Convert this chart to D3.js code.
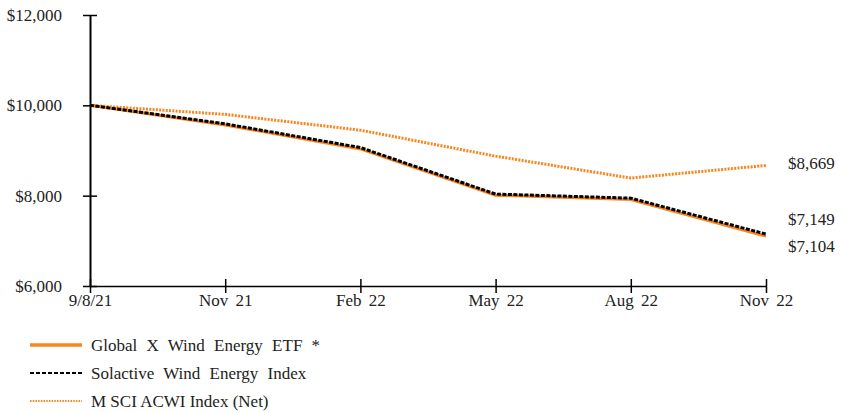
<!DOCTYPE html>
<html>
<head>
<meta charset="utf-8">
<script src="https://cdn.jsdelivr.net/npm/d3@7/dist/d3.min.js"></script>
<style>
  body { margin: 0; background: #fff; }
  svg text { font-family: "Liberation Serif", "Times New Roman", serif; fill: #222; }
</style>
</head>
<body>
<svg id="chart" width="842" height="412"></svg>
<script>
// Growth of a $10,000 investment
const categories = ["9/8/21", "Nov 21", "Feb 22", "May 22", "Aug 22", "Nov 22"];
const etfValues = [10000, 9565, 9035, 8010, 7915, 7104];
const solactiveValues = [10000, 9590, 9065, 8035, 7945, 7149];
const msciValues = [10000, 9800, 9450, 8875, 8390, 8669];
const yTicks = [6000, 8000, 10000, 12000];
const seriesNames = ["Global X Wind Energy ETF *", "Solactive Wind Energy Index", "M SCI ACWI Index (Net)"];

const orange = "#f7861e";
const fontSize = 17;
const svg = d3.select("#chart");

const x = d3.scalePoint().domain(categories).range([90, 766]);
const y = d3.scaleLinear().domain([6000, 12000]).range([286, 15]);

const fmt = v => "$" + d3.format(",")(v);

// Y axis
const yAxis = svg.append("g").attr("transform", "translate(90,0)")
  .call(d3.axisLeft(y).tickValues(yTicks).tickFormat(fmt).tickSizeInner(7).tickSizeOuter(0));
yAxis.select(".domain").attr("stroke", "#000").attr("stroke-width", 2);
yAxis.selectAll(".tick line").attr("x2", 7).attr("x1", -7).attr("stroke", "#000").attr("stroke-width", 1.5);
yAxis.selectAll(".tick text").attr("font-size", fontSize).attr("fill", "#222")
  .attr("font-family", "Liberation Serif, serif").attr("x", -28);

// X axis
const xAxis = svg.append("g").attr("transform", `translate(0,${y(6000)})`)
  .call(d3.axisBottom(x).tickSizeInner(7).tickSizeOuter(0));
xAxis.select(".domain").attr("stroke", "#000").attr("stroke-width", 1.5);
xAxis.selectAll(".tick line").attr("y1", -7).attr("y2", 7).attr("stroke", "#000").attr("stroke-width", 1.5);
xAxis.selectAll(".tick text").attr("font-size", fontSize).attr("fill", "#222")
  .attr("font-family", "Liberation Serif, serif").attr("y", 8).attr("dy", "0.71em")
  .attr("word-spacing", 3);

const line = d3.line().x((d, i) => x(categories[i])).y(d => y(d));

// Series lines
svg.append("path").datum(msciValues).attr("d", line)
  .attr("fill", "none").attr("stroke", orange).attr("stroke-width", 3).attr("stroke-dasharray", "2,1.3");
svg.append("path").datum(etfValues).attr("d", line)
  .attr("fill", "none").attr("stroke", orange).attr("stroke-width", 3);
svg.append("path").datum(solactiveValues).attr("d", line)
  .attr("fill", "none").attr("stroke", "#000").attr("stroke-width", 3).attr("stroke-dasharray", "4,1.5");

// End value labels
const last = categories.length - 1;
const endLabels = [
  { v: msciValues[last], dy: -2 },
  { v: solactiveValues[last], dy: -15 },
  { v: etfValues[last], dy: 10 }
];
svg.selectAll(".endlabel").data(endLabels).join("text")
  .attr("class", "endlabel")
  .attr("x", 788)
  .attr("y", d => y(d.v) + d.dy)
  .attr("dy", "0.35em")
  .attr("font-size", fontSize)
  .text(d => fmt(d.v));

// Legend
const legend = svg.append("g");
const legendStyles = [
  { stroke: orange, width: 3.5, dash: null, ws: 5 },
  { stroke: "#000", width: 2, dash: "4,2", ws: 5 },
  { stroke: orange, width: 2, dash: "1.5,1.2", ws: 0 }
];
seriesNames.forEach((name, i) => {
  const ly = 345 + i * 28;
  legend.append("line").attr("x1", 30).attr("x2", 82).attr("y1", ly).attr("y2", ly)
    .attr("stroke", legendStyles[i].stroke).attr("stroke-width", legendStyles[i].width)
    .attr("stroke-dasharray", legendStyles[i].dash);
  legend.append("text").attr("x", 91).attr("y", ly).attr("dy", "0.35em")
    .attr("font-size", fontSize).attr("word-spacing", legendStyles[i].ws).text(name);
});
</script>
</body>
</html>
